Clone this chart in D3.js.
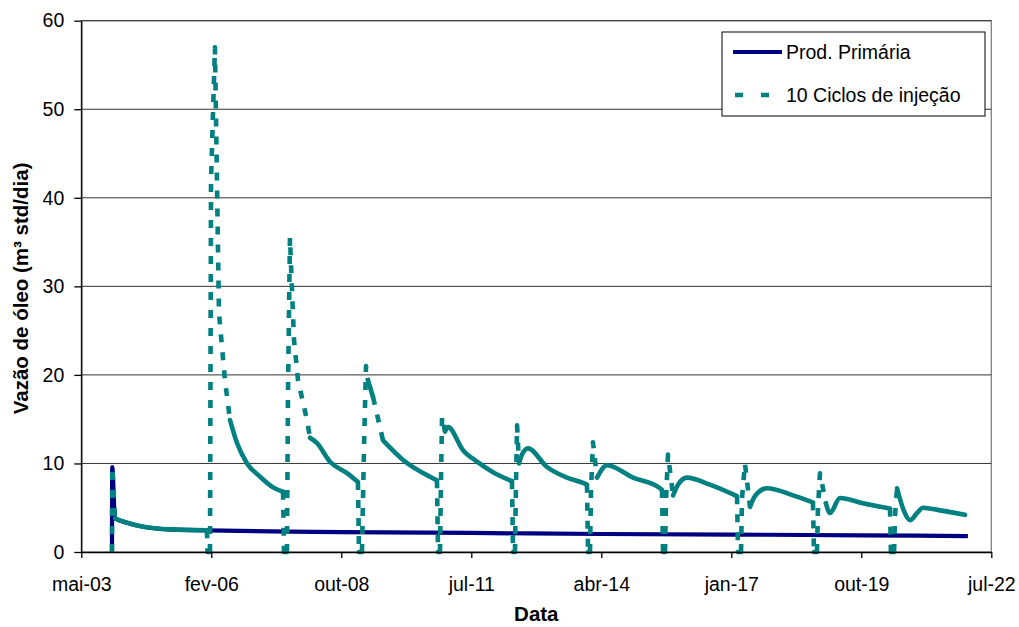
<!DOCTYPE html>
<html>
<head>
<meta charset="utf-8">
<script src="https://cdn.jsdelivr.net/npm/d3@7"></script>
<style>
  body { margin: 0; background: #fff; }
  svg { display: block; }
  text { font-family: "Liberation Sans", Arial, sans-serif; fill: #000; }
</style>
</head>
<body>
<svg id="chart" width="1019" height="627"></svg>
<script>
// Simulation start date; the series times are days elapsed since it.
const originDate = [2003, 4, 10];

// Date axis: one major tick every 1000 days
const xTickDays = [0, 1000, 2000, 3000, 4000, 5000, 6000, 7000];
const xTickLabels = ["mai-03", "fev-06", "out-08", "jul-11", "abr-14", "jan-17", "out-19", "jul-22"];
const yTicks = [0, 10, 20, 30, 40, 50, 60];

// Primary production (m³ std/dia)
const primDays = [236, 238, 259, 352, 475, 682, 967, 1600, 2000, 3000, 4000, 5000, 6000, 6820];
const primRate = [0, 9.6, 3.8, 3.3, 2.85, 2.55, 2.45, 2.3, 2.25, 2.15, 2.03, 1.97, 1.88, 1.8];

// Cyclic injection case, 10 cycles (m³ std/dia)
const injDays = [
  236, 238, 259, 352, 475, 682, 967,
  971, 990, 998, 1028, 1059, 1105, 1144, 1198, 1275, 1375, 1475, 1552,
  1559, 1582, 1590, 1605, 1636, 1667, 1736, 1759, 1813, 1913, 2044, 2128,
  2136, 2159, 2175, 2190, 2205, 2244, 2321, 2475, 2682, 2736,
  2744, 2759, 2767, 2775, 2798, 2821, 2936, 3044, 3167, 3313,
  3321, 3336, 3344, 3352, 3367, 3390, 3436, 3582, 3736, 3859, 3890,
  3898, 3913, 3921, 3936, 3967, 4044, 4244, 4452, 4467,
  4475, 4490, 4498, 4513, 4552, 4590, 4659, 4836, 5044,
  5052, 5075, 5082, 5105, 5144, 5182, 5275, 5475, 5628,
  5636, 5659, 5667, 5682, 5728, 5759, 5836, 6013, 6221,
  6228, 6252, 6259, 6275, 6329, 6375, 6429, 6475, 6605, 6798
];
const injRate = [
  0, 9.6, 3.8, 3.3, 2.85, 2.55, 2.45,
  0, 0, 42, 57, 27, 19.4, 14.9, 12.3, 10.0, 8.5, 7.3, 6.8,
  0, 0, 18, 35.5, 24, 19.4, 14.9, 12.9, 12.3, 10.2, 8.9, 7.9,
  0, 0, 12, 21, 19.4, 17.5, 12.6, 10.4, 8.5, 8.1,
  0, 0, 8, 15.3, 13.6, 14.1, 11.5, 10.2, 9.0, 8.0,
  0, 0, 8, 14.3, 10.0, 11.0, 11.7, 9.6, 8.4, 7.8, 7.6,
  0, 0, 7, 12.4, 8.4, 9.8, 8.4, 7.2, 7.0,
  0, 0, 6, 11.0, 6.4, 7.6, 8.4, 7.6, 6.3,
  0, 0, 6, 10.0, 5.1, 6.3, 7.2, 6.4, 5.6,
  0, 0, 5, 8.9, 5.5, 4.4, 6.1, 5.5, 4.9,
  0, 0, 4, 7.2, 4.6, 3.6, 4.4, 5.0, 4.7, 4.2
];

const seriesNames = ["Prod. Primária", "10 Ciclos de injeção"];
const colorPrim = "#000080";
const colorInj = "#008080";

const svg = d3.select("#chart");
const plot = { left: 81.3, right: 991.3, top: 20.7, bottom: 552 };

const origin = new Date(Date.UTC(originDate[0], originDate[1], originDate[2]));
const toDate = d => d3.utcDay.offset(origin, d);

const x = d3.scaleUtc()
  .domain([toDate(xTickDays[0]), toDate(xTickDays[xTickDays.length - 1])])
  .range([plot.left, plot.right]);
const y = d3.scaleLinear().domain([0, 60]).range([plot.bottom, plot.top]);

// Plot area frame and horizontal gridlines
svg.append("rect")
  .attr("x", plot.left).attr("y", plot.top)
  .attr("width", plot.right - plot.left).attr("height", plot.bottom - plot.top)
  .attr("fill", "#fff").attr("stroke", "#808080").attr("stroke-width", 1.3);

svg.append("g").selectAll("line")
  .data(yTicks.filter(v => v > 0))
  .join("line")
  .attr("x1", plot.left).attr("x2", plot.right)
  .attr("y1", d => y(d)).attr("y2", d => y(d))
  .attr("stroke", "#333").attr("stroke-width", 1);

// Primary production: solid line
const line = d3.line();
const smooth = d3.line().curve(d3.curveMonotoneX);
svg.append("path")
  .attr("d", smooth(primDays.map((d, i) => [x(toDate(d)), y(primRate[i])])))
  .attr("fill", "none")
  .attr("stroke", colorPrim)
  .attr("stroke-width", 4.2)
  .attr("stroke-linejoin", "round");

// Injection case: steep stretches are drawn dashed, gentle decline solid
const pts = injDays.map((d, i) => [x(toDate(d)), y(injRate[i])]);
const runs = [];
for (let i = 0; i < pts.length - 1; i++) {
  const dx = pts[i + 1][0] - pts[i][0];
  const dy = pts[i + 1][1] - pts[i][1];
  const steep = Math.abs(dy) > 4 * Math.abs(dx) && Math.abs(dy) > 6;
  const last = runs[runs.length - 1];
  if (last && last.steep === steep) last.pts.push(pts[i + 1]);
  else runs.push({ steep, pts: [pts[i], pts[i + 1]] });
}
const gInj = svg.append("g");
runs.forEach(r => {
  gInj.append("path")
    .attr("d", r.steep ? line(r.pts) : smooth(r.pts))
    .attr("fill", "none")
    .attr("stroke", colorInj)
    .attr("stroke-width", 4.6)
    .attr("stroke-linejoin", "round")
    .attr("stroke-linecap", r.steep ? "butt" : "round")
    .attr("stroke-dasharray", r.steep ? "8,10" : null);
});

// Axes
const xAxis = d3.axisBottom(x)
  .tickValues(xTickDays.map(toDate))
  .tickFormat((d, i) => xTickLabels[i])
  .tickSize(6).tickSizeOuter(0).tickPadding(19);
const gx = svg.append("g").attr("transform", `translate(0,${plot.bottom})`).call(xAxis);
gx.selectAll("text").style("font-size", "19.5px");

const yAxis = d3.axisLeft(y)
  .tickValues(yTicks)
  .tickSize(7).tickSizeOuter(0).tickPadding(10);
const gy = svg.append("g").attr("transform", `translate(${plot.left},0)`).call(yAxis);
gy.selectAll("text").style("font-size", "19.5px");

[gx, gy].forEach(g => {
  g.select(".domain").attr("stroke", "#000").attr("stroke-width", 1.3);
  g.selectAll(".tick line").attr("stroke", "#000").attr("stroke-width", 1.3);
});

// Axis titles
svg.append("text")
  .attr("x", (plot.left + plot.right) / 2).attr("y", 621)
  .attr("text-anchor", "middle")
  .style("font-size", "20.5px").style("font-weight", "bold")
  .text("Data");

svg.append("text")
  .attr("transform", `translate(28,${(plot.top + plot.bottom) / 2 + 2}) rotate(-90)`)
  .attr("text-anchor", "middle")
  .style("font-size", "20.5px").style("font-weight", "bold")
  .text("Vazão de óleo (m³ std/dia)");

// Legend
const legend = svg.append("g");
legend.append("rect")
  .attr("x", 722).attr("y", 32).attr("width", 263).attr("height", 84)
  .attr("fill", "#fff").attr("stroke", "#000").attr("stroke-width", 1);

const legendRows = [
  { name: seriesNames[0], color: colorPrim, dash: null, width: 4, x1: 733, x2: 782, cy: 52 },
  { name: seriesNames[1], color: colorInj, dash: "8,18", width: 4.6, x1: 735, x2: 780, cy: 95 }
];
legendRows.forEach(r => {
  legend.append("line")
    .attr("x1", r.x1).attr("x2", r.x2).attr("y1", r.cy).attr("y2", r.cy)
    .attr("stroke", r.color).attr("stroke-width", r.width)
    .attr("stroke-dasharray", r.dash);
  legend.append("text")
    .attr("x", 786).attr("y", r.cy).attr("dy", "0.36em")
    .style("font-size", "19.5px")
    .text(r.name);
});
</script>
</body>
</html>
